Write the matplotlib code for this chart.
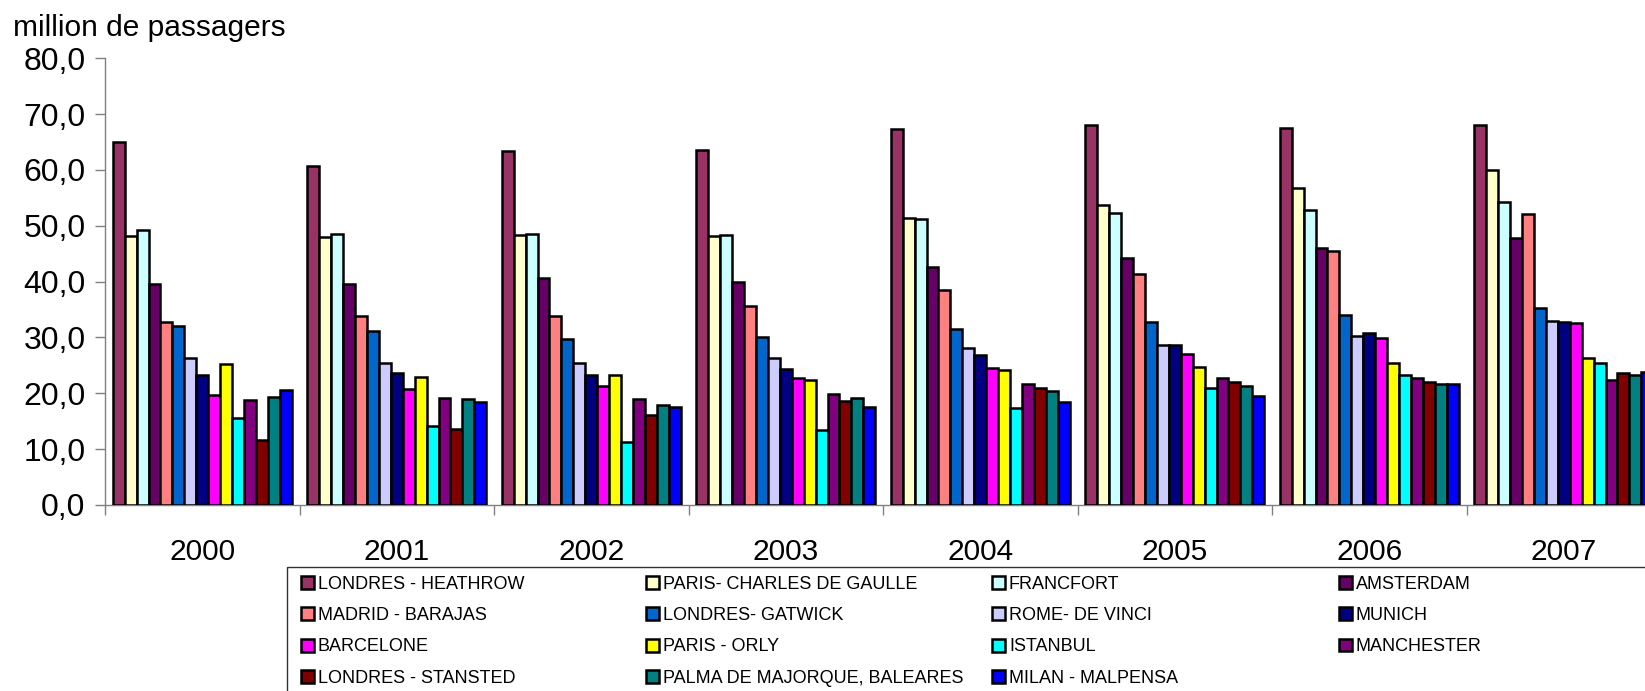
import numpy as np
import matplotlib
matplotlib.use("Agg")
import matplotlib.pyplot as plt
from matplotlib.patches import Rectangle
from matplotlib.ticker import FuncFormatter

plt.rcParams['font.family'] = ['Liberation Sans', 'DejaVu Sans']

# Data: million passengers per airport, 2000-2007
years = ['2000', '2001', '2002', '2003', '2004', '2005', '2006', '2007']

airports = ['LONDRES - HEATHROW', 'PARIS- CHARLES DE GAULLE', 'FRANCFORT', 'AMSTERDAM',
            'MADRID - BARAJAS', 'LONDRES- GATWICK', 'ROME- DE VINCI', 'MUNICH',
            'BARCELONE', 'PARIS - ORLY', 'ISTANBUL', 'MANCHESTER',
            'LONDRES - STANSTED', 'PALMA DE MAJORQUE, BALEARES', 'MILAN - MALPENSA']

heathrow = [65.0, 60.8, 63.4, 63.6, 67.4, 68.1, 67.6, 68.1]
cdg = [48.2, 48.0, 48.3, 48.2, 51.4, 53.8, 56.8, 60.0]
francfort = [49.3, 48.5, 48.5, 48.4, 51.3, 52.3, 52.9, 54.2]
amsterdam = [39.6, 39.5, 40.7, 40.0, 42.7, 44.2, 46.1, 47.8]
madrid = [32.8, 33.9, 33.9, 35.7, 38.5, 41.3, 45.5, 52.1]
gatwick = [32.1, 31.1, 29.7, 30.1, 31.5, 32.7, 34.1, 35.2]
rome = [26.3, 25.5, 25.4, 26.3, 28.1, 28.7, 30.2, 32.9]
munich = [23.2, 23.6, 23.2, 24.3, 26.8, 28.7, 30.8, 32.7]
barcelone = [19.7, 20.8, 21.4, 22.7, 24.5, 27.1, 29.9, 32.6]
orly = [25.3, 23.0, 23.2, 22.4, 24.1, 24.8, 25.5, 26.4]
istanbul = [15.5, 14.2, 11.3, 13.4, 17.3, 21.0, 23.2, 25.4]
manchester = [18.8, 19.1, 19.0, 19.9, 21.6, 22.7, 22.7, 22.3]
stansted = [11.7, 13.6, 16.1, 18.7, 21.0, 22.1, 22.0, 23.7]
palma = [19.4, 18.9, 17.9, 19.1, 20.4, 21.3, 21.7, 23.2]
milan = [20.6, 18.5, 17.5, 17.6, 18.5, 19.6, 21.7, 23.8]

series = [heathrow, cdg, francfort, amsterdam, madrid, gatwick, rome, munich,
          barcelone, orly, istanbul, manchester, stansted, palma, milan]

colors = ['#993366', '#FFFFCC', '#CCFFFF', '#660066', '#FF8080', '#0066CC', '#CCCCFF', '#000080',
          '#FF00FF', '#FFFF00', '#00FFFF', '#800080', '#800000', '#008080', '#0000FF']

W, H = 1645, 691
fig = plt.figure(figsize=(W / 100, H / 100), dpi=100)
# axes run past the right edge of the figure, like in the original crop
ax = fig.add_axes([105 / W, 186 / H, 1556 / W, 446.7 / H])

x = np.arange(len(years))
n = len(series)
group = 0.92
bw = group / n
bars = []
for j in range(n):
    b = ax.bar(x + (1 - group) / 2 + (j + 0.5) * bw, series[j], width=bw,
               color=colors[j], edgecolor='black', linewidth=1.8,
               label=airports[j], zorder=3)
    bars.append(b)

ax.set_xlim(0, len(years))
ax.set_ylim(0, 80)
ax.set_yticks(np.arange(0, 81, 10))
ax.yaxis.set_major_formatter(FuncFormatter(lambda v, p: f"{v:.1f}".replace('.', ',')))

ax.set_xticks(np.arange(0, len(years) + 1))
ax.set_xticklabels([])
ax.set_xticks(x + 0.5, minor=True)
ax.set_xticklabels(years, minor=True)

ax.tick_params(axis='x', which='major', length=7, width=1, color='#808080')
ax.tick_params(axis='x', which='minor', length=0, pad=23.5, labelsize=21.5)
ax.tick_params(axis='y', length=7, width=1, color='#808080', labelsize=23, pad=7)

for s in ['top', 'right']:
    ax.spines[s].set_visible(False)
for s in ['left', 'bottom']:
    ax.spines[s].set_color('#808080')
    ax.spines[s].set_linewidth(1)

fig.text(13 / W, (H - 36) / H, 'million de passagers', fontsize=21.5, va='baseline', ha='left')

# legend: 4 columns filled row by row, inside a box cut by the figure edges
fig.add_artist(Rectangle((286.5 / W, -0.05), 1.0, (H - 566.5) / H + 0.05,
                         transform=fig.transFigure, fill=False, edgecolor='#333333', linewidth=1))

col_x = [301, 646, 992, 1339]
for c in range(4):
    idx = list(range(c, n, 4))
    rows = len(idx)
    yc = 584 + (rows - 1) * 31.5 / 2
    leg = fig.legend([bars[i] for i in idx], [airports[i] for i in idx],
                     loc='center left', bbox_to_anchor=(col_x[c] / W, (H - yc) / H),
                     frameon=False, fontsize=13, borderpad=0, borderaxespad=0,
                     handlelength=0.72, handleheight=0.72, handletextpad=0.22,
                     labelspacing=0.79)

fig.savefig('out.png', dpi=100)
